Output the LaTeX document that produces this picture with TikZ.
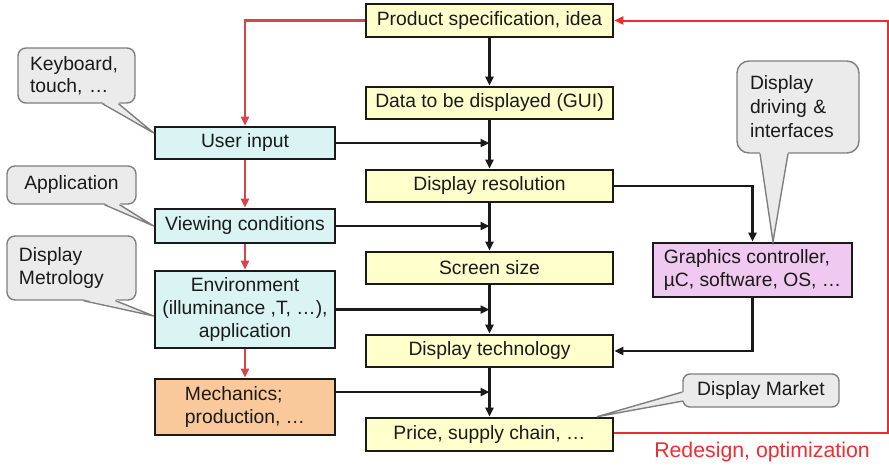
\documentclass[tikz,border=0pt]{standalone}
\usepackage{fontspec}
\setmainfont{Liberation Sans}
\usetikzlibrary{arrows.meta}
\definecolor{yel}{HTML}{FFFFCC}
\definecolor{blu}{HTML}{DAF3F3}
\definecolor{org}{HTML}{FAC99B}
\definecolor{pur}{HTML}{F0C9F0}
\definecolor{cfill}{HTML}{EBEBEB}
\definecolor{cline}{HTML}{7F7F7F}
\definecolor{redA}{HTML}{D4464C}
\definecolor{redB}{HTML}{EE2E2E}
\definecolor{ink}{HTML}{1A1A1A}
\begin{document}
\begin{tikzpicture}[x=1pt,y=-1pt,
  box/.style={draw=ink, line width=2.6pt, inner sep=0pt, font=\fontsize{19.3}{23.3}\selectfont, text=ink},
  ybox/.style={box, fill=yel, minimum width=247pt, minimum height=32pt},
  bbox/.style={box, fill=blu, minimum width=180pt, align=center},
  arr/.style={draw=ink, line width=2.4pt, -{Triangle[length=9pt,width=8pt]}},
  rarr/.style={draw=redA, line width=2.2pt, -{Triangle[length=9pt,width=8pt]}},
  callout/.style={draw=cline, fill=cfill, line width=1.4pt, rounded corners=8pt, inner sep=0pt, font=\fontsize{19.3}{22.5}\selectfont, text=ink},
  cl/.style={draw=cline, line width=1.4pt},
]
\useasboundingbox (0,0) rectangle (889,466);

% centre column
\node[ybox, minimum height=33pt] (prod) at (489.5,20.5) {Product specification, idea};
\node[ybox] (data) at (489.5,103) {Data to be displayed (GUI)};
\node[ybox] (res) at (489.5,186) {Display resolution};
\node[ybox] (scr) at (489.5,268) {Screen size};
\node[ybox] (tech) at (489.5,351) {Display technology};
\node[ybox, minimum height=33pt] (price) at (489.5,434.5) {Price, supply chain, …};

% left column
\node[bbox, minimum height=32pt] (user) at (245,143) {User input};
\node[bbox, minimum height=34pt] (view) at (245,226) {Viewing conditions};
\node[bbox, minimum height=77pt] (env) at (245,309.5) {Environment\\(illuminance ,T, …),\\application};
\node[box, fill=org, minimum width=180pt, minimum height=56pt, align=left] (mech) at (245,407) {Mechanics;\\production, …};

% right
\node[box, fill=pur, minimum width=199pt, minimum height=54pt, align=left] (gfx) at (752.5,270) {Graphics controller,\\µC, software, OS, …};

% black arrows, centre
\draw[arr] (prod) -- (data);
\draw[arr] (data) -- (res);
\draw[arr] (res) -- (scr);
\draw[arr] (scr) -- (tech);
\draw[arr] (tech) -- (price);

\draw[arr] (user.east) -- (user.east -| data.south);
\draw[arr] (view.east) -- (view.east -| res.south);
\draw[arr] (env.east) -- (env.east -| scr.south);
\draw[arr] ([yshift=15pt]mech.east) -- ([yshift=15pt]mech.east -| tech.south);

\draw[arr] (res.east) -| (gfx.north);
\draw[arr] (gfx.south) |- (tech.east);

% red arrows, left
\draw[rarr] (prod.west) -| (user.north);
\draw[rarr] (user) -- (view);
\draw[rarr] (view) -- (env);
\draw[rarr] (env) -- (mech);

% feedback
\coordinate (fb) at (887.5,433);
\draw[draw=redB, line width=2pt, -{Triangle[length=9pt,width=8pt]}] ([yshift=1.5pt]price.east) -- ([yshift=1.5pt]price.east -| fb) |- (prod.east);
\node[text=redB, font=\fontsize{21.3}{24}\selectfont, inner sep=0pt] (lbl) at (762,452) {Redesign, optimization};

% callouts
\node[callout, minimum width=117pt, minimum height=55pt, text width=93pt, align=left] (kb) at (76.5,75.5) {Keyboard,\\touch, …};
\fill[cfill] ([xshift=26pt,yshift=1.5pt]kb.south) -- ([yshift=10pt]user.west) -- ([xshift=42pt,yshift=1.5pt]kb.south) -- cycle;
\draw[cl] ([xshift=26pt]kb.south) -- ([yshift=10pt]user.west) -- ([xshift=42pt]kb.south);

\node[callout, minimum width=129pt, minimum height=38pt] (app) at (71.5,185) {Application};
\fill[cfill] ([xshift=33pt,yshift=1.5pt]app.south) -- (view.west) -- ([xshift=48pt,yshift=1.5pt]app.south) -- cycle;
\draw[cl] ([xshift=33pt]app.south) -- (view.west) -- ([xshift=48pt]app.south);

\node[callout, minimum width=129pt, minimum height=64pt, text width=105pt, align=left] (met) at (71.5,268) {Display\\Metrology};
\fill[cfill] ([xshift=12pt,yshift=1.5pt]met.south) -- ([yshift=-6.5pt]env.west) -- ([xshift=44pt,yshift=1.5pt]met.south) -- cycle;
\draw[cl] ([xshift=12pt]met.south) -- ([yshift=-6.5pt]env.west) -- ([xshift=44pt]met.south);

\node[callout, rounded corners=12pt, minimum width=122pt, minimum height=92pt, text width=96pt, align=left, font=\fontsize{19.3}{24}\selectfont] (drv) at (798,107) {Display\\driving \&\\interfaces};
\fill[cfill] ([xshift=-38pt,yshift=1.5pt]drv.south) -- ([xshift=20.5pt]gfx.north) -- ([xshift=-10pt,yshift=1.5pt]drv.south) -- cycle;
\draw[cl] ([xshift=-38pt]drv.south) -- ([xshift=20.5pt]gfx.north) -- ([xshift=-10pt]drv.south);

\node[callout, rounded corners=7pt, minimum width=156pt, minimum height=33pt] (mkt) at (761,390.5) {Display Market};
\fill[cfill] ([xshift=1.5pt,yshift=-1.5pt]mkt.west) -- ([xshift=107.5pt]price.north) -- ([xshift=1.5pt,yshift=-10.5pt]mkt.west) -- cycle;
\draw[cl] ([yshift=-1.5pt]mkt.west) -- ([xshift=107.5pt]price.north) -- ([xshift=0.8pt,yshift=-10.5pt]mkt.west);
\end{tikzpicture}
\end{document}
